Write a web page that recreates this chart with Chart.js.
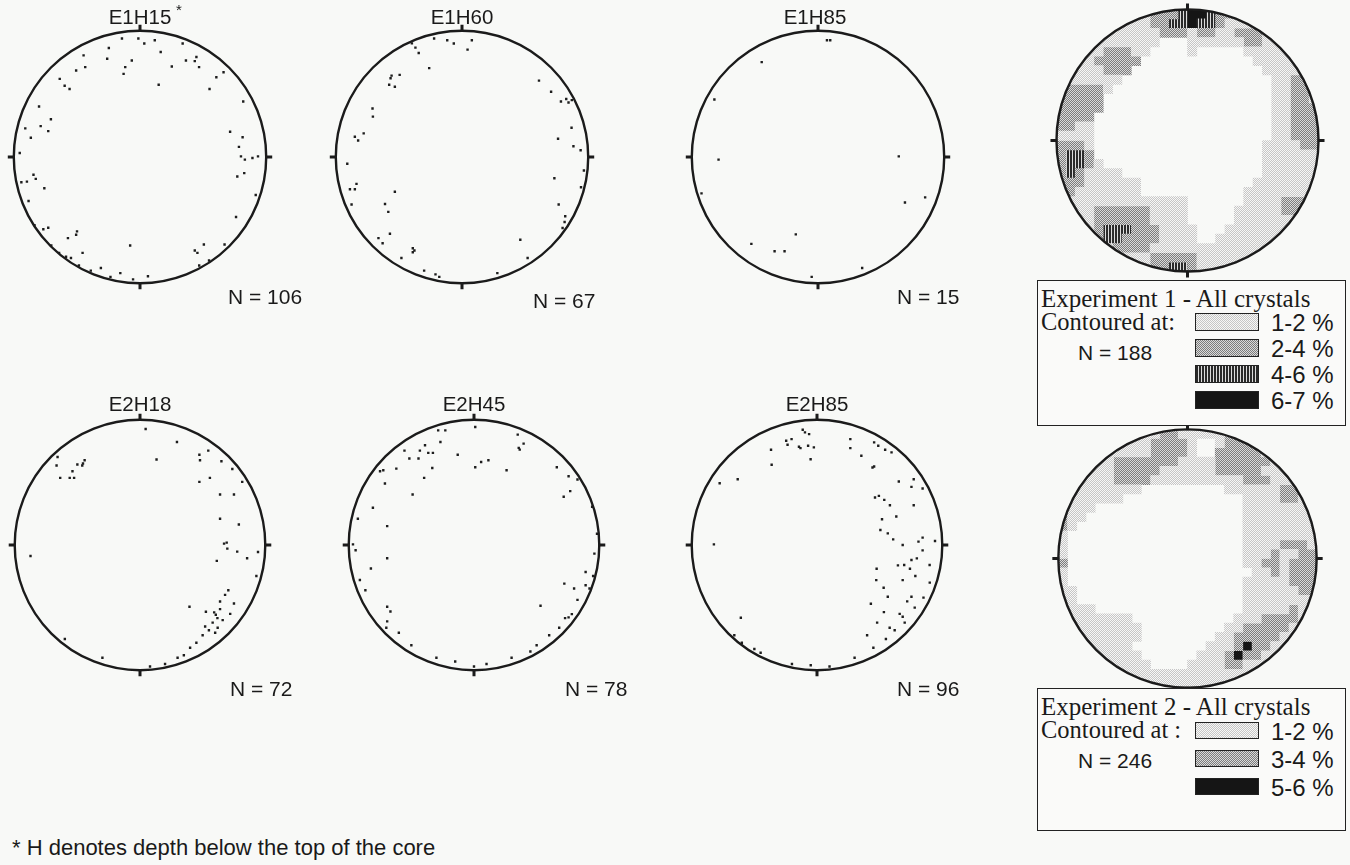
<!DOCTYPE html>
<html><head><meta charset="utf-8">
<script src="https://cdn.jsdelivr.net/npm/chart.js@4.4.0/dist/chart.umd.min.js"></script>
<style>
html,body{margin:0;padding:0;background:#f8f9f7;}
#page{position:relative;width:1350px;height:865px;overflow:hidden;font-family:"Liberation Sans",Arial,sans-serif;color:#1a1a1a;}
.net{position:absolute;}
.lbl{position:absolute;white-space:nowrap;line-height:1;}
.ctr{transform:translateX(-50%);}
.legend{position:absolute;border:1.5px solid #222;box-sizing:border-box;background:#fafaf9;}
.serif{font-family:"Liberation Serif","Times New Roman",serif;}
.sw{position:absolute;width:64px;border:1.5px solid #222;box-sizing:border-box;}
</style></head><body><div id="page"></div>
<script>
// ---- sample names, crystal counts -------------------------------------
const panelTitles = ['E1H15', 'E1H60', 'E1H85', 'E2H18', 'E2H45', 'E2H85'];
const panelCounts = [106, 67, 15, 72, 78, 96];

// ---- c-axis poles, unit-circle coordinates [x, y] ---------------------
const e1h15 = [[-0.143,0.939],[-0.013,0.939],[0.034,0.899],[0.117,0.925],[0.164,0.832],[0.338,0.899],
  [-0.247,0.864],[-0.260,0.779],[-0.065,0.765],[-0.117,0.712],[-0.130,0.659],[-0.447,0.805],[-0.506,0.685],
  [-0.434,0.712],[0.252,0.717],[0.364,0.765],[0.447,0.792],[0.434,0.760],[0.468,0.712],[0.662,0.672],
  [0.605,0.632],[0.551,0.539],[0.148,0.573],[-0.636,0.619],[-0.597,0.565],[-0.558,0.539],[-0.800,0.400],
  [-0.706,0.299],[-0.787,0.245],[-0.909,0.227],[-0.865,0.152],[-0.727,0.205],[0.818,0.440],[0.714,0.200],
  [0.813,0.157],[0.784,0.080],[0.800,0.005],[0.831,-0.021],[0.891,-0.008],[0.935,0.005],[0.771,-0.155],
  [0.826,-0.128],[0.917,-0.301],[0.761,-0.475],[-0.953,0.032],[-0.844,-0.141],[-0.826,-0.173],[-0.896,-0.195],
  [-0.940,-0.200],[-0.758,-0.248],[-0.883,-0.349],[-0.766,-0.573],[-0.727,-0.560],[-0.499,-0.589],[-0.506,-0.616],
  [-0.571,-0.643],[-0.455,-0.760],[-0.078,-0.701],[0.506,-0.693],[0.434,-0.741],[0.670,-0.693],[0.455,-0.760],
  [-0.836,-0.540],[-0.703,-0.700],[-0.641,-0.760],[-0.484,-0.860],[-0.390,-0.900],[-0.234,-0.950],[-0.156,-0.920],
  [-0.055,-0.970],[0.063,-0.945],[0.469,-0.860],[0.547,-0.820],[-0.547,-0.800],[-0.310,-0.880],[-0.586,-0.790]];
const e1h60 = [[-0.221,0.939],[-0.117,0.925],[-0.065,0.899],[0.044,0.851],[0.078,0.925],[-0.397,0.900],
  [-0.369,0.867],[-0.343,0.824],[-0.260,0.704],[-0.558,0.645],[-0.566,0.624],[-0.494,0.651],[-0.577,0.573],
  [-0.532,0.557],[-0.709,0.384],[-0.706,0.320],[-0.849,0.160],[-0.823,0.131],[-0.779,0.187],[-0.909,-0.053],
  [-0.836,-0.213],[-0.888,-0.256],[-0.849,-0.256],[-0.875,-0.376],[-0.532,-0.275],[-0.610,-0.373],[-0.584,-0.435],
  [-0.571,-0.608],[-0.662,-0.643],[-0.629,-0.683],[-0.390,-0.723],[-0.377,-0.741],[-0.390,-0.755],[0.462,-0.656],
  [0.610,0.605],[0.706,0.517],[0.784,0.440],[0.826,0.459],[0.844,0.432],[0.870,0.451],[0.868,0.232],
  [0.761,0.144],[0.883,0.085],[0.940,0.053],[0.732,-0.168],[0.966,-0.107],[0.943,-0.240],[0.818,-0.469],
  [0.813,-0.515],[0.797,-0.563],[0.766,-0.376],[-0.480,-0.800],[-0.300,-0.900],[-0.210,-0.930],[-0.180,-0.950],
  [0.280,-0.920],[0.520,-0.800]];
const e1h85 = [[0.071,0.925],[0.097,0.925],[-0.446,0.752],[-0.821,0.456],[-0.788,-0.021],[-0.923,-0.288],
  [0.640,0.005],[0.689,-0.360],[0.849,-0.320],[-0.176,-0.613],[-0.344,-0.747],[-0.265,-0.747],[-0.528,-0.688],
  [-0.050,-0.950],[0.350,-0.880]];
const e2h18 = [[0.045,0.926],[0.295,0.822],[0.132,0.682],[0.474,0.721],[0.545,0.753],[0.479,0.676],
  [0.650,0.668],[0.737,0.607],[0.816,0.504],[0.558,0.536],[0.474,0.504],[0.639,0.403],[0.750,0.403],
  [0.639,0.210],[0.789,0.164],[0.671,0.011],[0.692,0.019],[0.697,-0.029],[0.776,-0.053],[0.855,-0.106],
  [0.942,-0.056],[0.613,-0.127],[0.929,-0.247],[0.705,-0.361],[0.679,-0.398],[0.639,-0.451],[0.750,-0.467],
  [0.395,-0.493],[0.526,-0.533],[0.592,-0.538],[0.639,-0.512],[0.605,-0.557],[0.618,-0.584],[-0.658,0.703],
  [-0.666,0.634],[-0.637,0.536],[-0.561,0.536],[-0.526,0.536],[-0.539,0.589],[-0.500,0.642],[-0.461,0.634],
  [-0.442,0.676],[-0.455,0.650],[-0.874,-0.088],[0.580,-0.620],[0.620,-0.660],[0.550,-0.680],[0.500,-0.720],
  [0.660,-0.600],[0.450,-0.780],[0.400,-0.820],[0.720,-0.550],[0.600,-0.700],[0.520,-0.650],[0.350,-0.880],
  [0.300,-0.900],[0.200,-0.950],[-0.300,-0.900],[-0.600,-0.750],[0.080,-0.970]];
const e2h45 = [[-0.286,0.915],[-0.229,0.915],[0.010,0.942],[-0.268,0.822],[-0.391,0.796],[-0.555,0.753],
  [-0.432,0.753],[-0.365,0.735],[-0.328,0.735],[-0.516,0.690],[-0.443,0.690],[-0.333,0.615],[-0.130,0.721],
  [0.010,0.621],[0.057,0.663],[0.115,0.676],[0.260,0.597],[0.349,0.881],[0.357,0.775],[0.396,0.809],
  [0.365,0.761],[0.661,0.621],[0.755,0.549],[0.826,0.523],[0.768,0.430],[0.716,0.385],[0.943,0.305],
  [-0.398,0.536],[-0.490,0.403],[-0.711,0.491],[-0.620,0.610],[-0.750,0.589],[-0.724,0.597],[-0.807,0.297],
  [-0.927,0.210],[-0.693,0.151],[-0.966,0.005],[-0.945,-0.042],[-0.693,-0.106],[-0.823,-0.188],[-0.911,-0.279],
  [-0.867,-0.361],[-0.693,-0.493],[-0.667,-0.531],[-0.693,-0.610],[0.531,-0.485],[0.721,-0.308],[0.799,-0.347],
  [0.826,-0.438],[0.891,-0.215],[0.951,-0.247],[0.891,-0.321],[0.922,-0.347],[0.961,-0.069],[0.982,0.090],
  [0.727,-0.584],[0.755,-0.578],[0.781,-0.552],[-0.600,-0.700],[-0.500,-0.800],[-0.300,-0.900],[0.000,-0.970],
  [0.300,-0.900],[0.500,-0.800],[0.600,-0.720],[0.680,-0.660],[-0.700,-0.660],[0.100,-0.950],[-0.150,-0.930],
  [0.450,-0.850]];
const e2h85 = [[-0.114,0.920],[-0.096,0.899],[-0.063,0.885],[-0.203,0.845],[-0.246,0.832],[-0.235,0.800],
  [-0.144,0.784],[-0.132,0.773],[-0.071,0.792],[-0.025,0.779],[-0.051,0.685],[-0.367,0.760],[-0.362,0.640],
  [-0.633,0.525],[-0.777,0.493],[0.266,0.845],[0.266,0.773],[0.354,0.712],[0.456,0.819],[0.489,0.792],
  [0.544,0.760],[0.595,0.739],[0.443,0.619],[0.456,0.627],[0.653,0.507],[0.772,0.525],[0.754,0.464],
  [0.843,0.451],[0.463,0.379],[0.494,0.392],[0.537,0.360],[0.582,0.317],[0.772,0.317],[0.633,0.227],
  [0.519,0.205],[0.506,0.120],[0.565,0.093],[0.608,0.045],[0.684,0.000],[0.810,0.027],[0.843,0.059],
  [0.942,0.032],[0.843,-0.043],[-0.823,0.005],[0.797,-0.107],[0.754,-0.120],[0.696,-0.160],[0.646,-0.163],
  [0.476,-0.189],[0.742,-0.189],[0.785,-0.248],[0.899,-0.160],[0.684,-0.280],[0.473,-0.280],[0.532,-0.341],
  [0.565,-0.413],[0.754,-0.413],[0.430,-0.469],[0.534,-0.536],[0.684,-0.573],[-0.608,-0.581],[-0.660,-0.720],
  [-0.600,-0.780],[-0.500,-0.830],[-0.450,-0.860],[-0.200,-0.950],[0.100,-0.970],[0.300,-0.900],[0.450,-0.820],
  [0.550,-0.750],[0.620,-0.680],[0.700,-0.620],[0.780,-0.500],[0.850,-0.420],[0.900,-0.300],[0.580,-0.660],
  [0.480,-0.620],[0.400,-0.720],[0.660,-0.550],[0.720,-0.450],[-0.050,-0.960]];
const panelPoles = [e1h15, e1h60, e1h85, e2h18, e2h45, e2h85];

// ---- contoured pole density, 28 x 28 cells, rows top to bottom --------
// '.' outside the net, '0' below lowest contour, '1'..'4' contour band
const exp1Grid = [
  '........112223443221........',
  '......1111223343321111......',
  '.....111111222122112221.....',
  '....11111110001111112211....',
  '...1122211000010000011111...',
  '..112222200000000000011111..',
  '.11112220000000000000011111.',
  '.11111100000000000000001122.',
  '2222210000000000000000011222',
  '2222200000000000000000011221',
  '2222200000000000000000011222',
  '2222000000000000000000011222',
  '2211000000000000000000011222',
  '1111000000000000000000011222',
  '2221000000000000000000111122',
  '2332000000000000000000111111',
  '2332100000000000000000111111',
  '2321111000000000000000111111',
  '2221111110000000000001111111',
  '2211111110000000000011111111',
  '.11111111111110000001111222.',
  '.11122222211110000011111221.',
  '..112222221111000001111111..',
  '...1233322211110001111111...',
  '....23322221111001111111....',
  '.....122221111111111111.....',
  '......1111222221111111......',
  '........112233211111........'];
const exp2Grid = [
  '........111221111121........',
  '......1111222210012222......',
  '.....111112222100222221.....',
  '....11222222211112222221....',
  '...1112222211111122222111...',
  '..111122221111111111222111..',
  '.11111111000000000111111221.',
  '.11111100000000000001111221.',
  '1111000000000000000011111111',
  '2110000000000000000011111111',
  '2100000000000000000011111111',
  '1000000000000000000011111111',
  '1000000000000000000011112221',
  '1000000000000000000011121122',
  '2000000000000000000011221222',
  '1000000000000000000001121222',
  '1000000000000000000011111222',
  '1100000000000000000011111122',
  '1100000000000000000011111111',
  '1111000000000000000011111211',
  '.11111110000000000011122221.',
  '.11111111000000000112222211.',
  '..111111100000000112222211..',
  '...1111100000000111242211...',
  '....11111000000111242211....',
  '.....111110000111122111.....',
  '......1111111111111111......',
  '........111111111111........'];

// ---- legend text -------------------------------------------------------
const exp1Bands = ['1-2 %', '2-4 %', '4-6 %', '6-7 %'];
const exp2Bands = ['1-2 %', '3-4 %', '5-6 %'];
const exp1Count = 188, exp2Count = 246;

// ---- page layout (pixel centres / radii of the nets) -------------------
const netLayout = [
  {cx:140, cy:157, r:128, tx:140, ty:17,  nx:228, ny:296},
  {cx:462, cy:157, r:128, tx:462, ty:17,  nx:533, ny:300},
  {cx:818, cy:157, r:128, tx:815, ty:17,  nx:897, ny:296},
  {cx:140, cy:545, r:127, tx:140, ty:404, nx:230, ny:688},
  {cx:474, cy:545, r:127, tx:474, ty:404, nx:565, ny:688},
  {cx:817, cy:545, r:127, tx:817, ty:404, nx:897, ny:688}];
const contourLayout = [{cx:1187, cy:140, r:131}, {cx:1187, cy:558, r:129}];
const EXT = 1.08;

const page = document.getElementById('page');

// fill textures for the contour bands
function makePattern(kind) {
  const c = document.createElement('canvas');
  const g = c.getContext('2d');
  if (kind === 'light') {
    c.width = c.height = 2;
    g.fillStyle = '#f7f7f6'; g.fillRect(0, 0, 2, 2);
    g.fillStyle = '#c6c6c6'; g.fillRect(0, 0, 1, 1); g.fillRect(1, 1, 1, 1);
  } else if (kind === 'medium') {
    c.width = c.height = 2;
    g.fillStyle = '#dadada'; g.fillRect(0, 0, 2, 2);
    g.fillStyle = '#7c7c7c'; g.fillRect(0, 0, 1, 1); g.fillRect(1, 1, 1, 1);
  } else if (kind === 'stripe') {
    c.width = 3; c.height = 2;
    g.fillStyle = '#dcdcdc'; g.fillRect(0, 0, 3, 2);
    g.fillStyle = '#2a2a2a'; g.fillRect(0, 0, 2, 2);
  } else {
    c.width = c.height = 2;
    g.fillStyle = '#151515'; g.fillRect(0, 0, 2, 2);
  }
  return c;
}
const texCanvas = {light: makePattern('light'), medium: makePattern('medium'), stripe: makePattern('stripe'), black: makePattern('black')};
const pctx = document.createElement('canvas').getContext('2d');
const tex = {};
for (const k in texCanvas) tex[k] = pctx.createPattern(texCanvas[k], 'repeat');
const exp1Fills = {1: tex.light, 2: tex.medium, 3: tex.stripe, 4: tex.black};
const exp2Fills = {1: tex.light, 2: tex.medium, 4: tex.black};

// primitive circle + N/E/S/W marks, clipped contents
const stereonet = {
  id: 'stereonet',
  beforeDatasetsDraw(chart) {
    const {ctx, scales: {x, y}} = chart;
    const cx = x.getPixelForValue(0), cy = y.getPixelForValue(0);
    const rx = x.getPixelForValue(1) - cx, ry = cy - y.getPixelForValue(1);
    ctx.save();
    ctx.beginPath(); ctx.ellipse(cx, cy, rx, ry, 0, 0, Math.PI * 2); ctx.clip();
  },
  afterDatasetsDraw(chart) {
    const {ctx, scales: {x, y}} = chart;
    ctx.restore();
    const cx = x.getPixelForValue(0), cy = y.getPixelForValue(0);
    const rx = x.getPixelForValue(1) - cx, ry = cy - y.getPixelForValue(1);
    ctx.save();
    ctx.strokeStyle = '#1b1b1b';
    ctx.lineWidth = 2.4;
    ctx.beginPath(); ctx.ellipse(cx, cy, rx, ry, 0, 0, Math.PI * 2); ctx.stroke();
    ctx.lineWidth = 3;
    ctx.beginPath();
    ctx.moveTo(cx, cy - ry - 6); ctx.lineTo(cx, cy - ry + 1);
    ctx.moveTo(cx, cy + ry - 1); ctx.lineTo(cx, cy + ry + 6);
    ctx.moveTo(cx - rx - 6, cy); ctx.lineTo(cx - rx + 1, cy);
    ctx.moveTo(cx + rx - 1, cy); ctx.lineTo(cx + rx + 6, cy);
    ctx.stroke();
    ctx.restore();
  }
};

function addCanvas(cx, cy, r) {
  const S = Math.round(2 * r * EXT);
  const cv = document.createElement('canvas');
  cv.width = S; cv.height = S;
  cv.className = 'net';
  cv.style.left = (cx - S / 2) + 'px';
  cv.style.top = (cy - S / 2) + 'px';
  page.appendChild(cv);
  return cv;
}

function baseOptions() {
  return {
    responsive: false, animation: false, events: [],
    layout: {padding: 0},
    plugins: {legend: {display: false}, tooltip: {enabled: false}, title: {display: false}},
    scales: {
      x: {type: 'linear', min: -EXT, max: EXT, display: false},
      y: {type: 'linear', min: -EXT, max: EXT, display: false}
    }
  };
}

// text label placed by its vertical centre
function addLabel(text, left, midY, size, cls, extraStyle) {
  const d = document.createElement('div');
  d.className = 'lbl ' + (cls || '');
  d.textContent = text;
  d.style.fontSize = size + 'px';
  d.style.left = left + 'px';
  d.style.top = (midY - size / 2) + 'px';
  if (extraStyle) Object.assign(d.style, extraStyle);
  page.appendChild(d);
  return d;
}

// ---- the six pole plots ------------------------------------------------
panelPoles.forEach((poles, k) => {
  const L = netLayout[k];
  const cv = addCanvas(L.cx, L.cy, L.r);
  new Chart(cv, {
    type: 'scatter',
    data: {datasets: [{
      data: poles.map(([u, v]) => ({x: u, y: v})),
      pointStyle: 'rect', pointRadius: 1.7, pointHoverRadius: 0,
      pointBackgroundColor: '#1d1d1d', pointBorderWidth: 0
    }]},
    options: baseOptions(),
    plugins: [stereonet]
  });
  addLabel(panelTitles[k], L.tx, L.ty, 20.5, 'ctr');
  addLabel('N = ' + panelCounts[k], L.nx, L.ny, 21);
});
addLabel('*', 176, 9, 15);

// ---- contoured nets ------------------------------------------------------
function cellsOf(grid, level) {
  const n = grid.length, pts = [];
  grid.forEach((row, j) => {
    for (let i = 0; i < row.length; i++) {
      if (row[i] === String(level)) pts.push({x: -1 + (i + 0.5) * 2 / n, y: 1 - (j + 0.5) * 2 / n});
    }
  });
  return pts;
}
function cellRadius(n) {
  return (ctx) => {
    const s = ctx.chart.scales.x;
    const side = s.getPixelForValue(2 / n) - s.getPixelForValue(0);
    return (side + 0.6) / Math.SQRT2;
  };
}
function contourChart(grid, fills, layout) {
  const cv = addCanvas(layout.cx, layout.cy, layout.r);
  const n = grid.length;
  const datasets = Object.keys(fills).map(lv => ({
    data: cellsOf(grid, Number(lv)),
    pointStyle: 'rect', pointRadius: cellRadius(n), pointHoverRadius: 0,
    pointBackgroundColor: fills[lv], pointBorderWidth: 0
  }));
  new Chart(cv, {type: 'scatter', data: {datasets}, options: baseOptions(), plugins: [stereonet]});
}
contourChart(exp1Grid, exp1Fills, contourLayout[0]);
contourChart(exp2Grid, exp2Fills, contourLayout[1]);

// ---- legends ---------------------------------------------------------------
function legendBox(top, height, heading, sub, count, bands, kinds, swTops, swH) {
  const box = document.createElement('div');
  box.className = 'legend';
  Object.assign(box.style, {left: '1037px', top: top + 'px', width: '309px', height: height + 'px'});
  page.appendChild(box);
  addLabel(heading, 1041, top + 18, 25, 'serif');
  addLabel(sub, 1041, top + 42, 24.5, 'serif');
  addLabel('N = ' + count, 1078, top + 72, 21);
  bands.forEach((b, i) => {
    const sw = document.createElement('div');
    sw.className = 'sw';
    Object.assign(sw.style, {left: '1195px', top: (top + swTops[i]) + 'px', height: swH + 'px',
      backgroundImage: 'url(' + texCanvas[kinds[i]].toDataURL() + ')', backgroundRepeat: 'repeat'});
    page.appendChild(sw);
    addLabel(b, 1271, top + swTops[i] + swH / 2 + 1, 24);
  });
}
legendBox(280, 146, 'Experiment 1 - All crystals', 'Contoured at:', exp1Count, exp1Bands,
  ['light', 'medium', 'stripe', 'black'], [33, 59, 85, 111], 18);
legendBox(688, 143, 'Experiment 2 - All crystals', 'Contoured at :', exp2Count, exp2Bands,
  ['light', 'medium', 'black'], [34, 62, 90], 17);

addLabel('* H  denotes depth below the top of the core', 12, 848, 22);
</script></body></html>
